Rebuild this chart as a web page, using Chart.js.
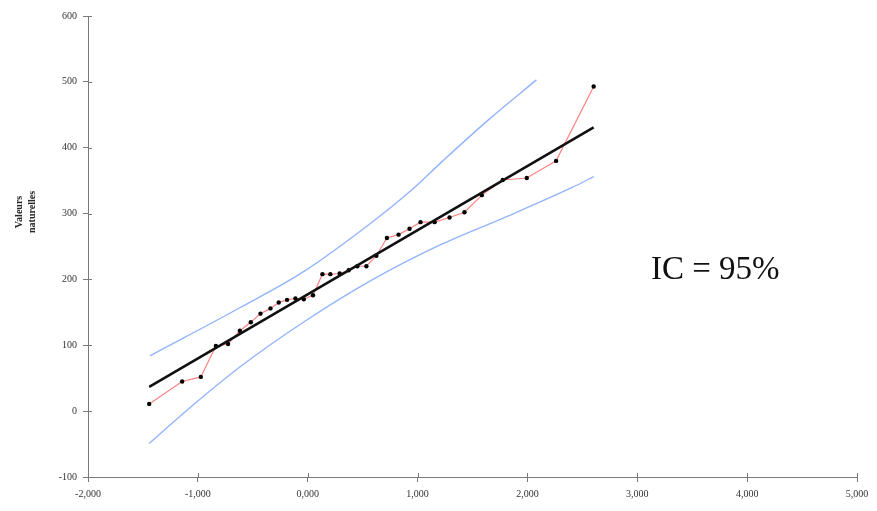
<!DOCTYPE html>
<html>
<head>
<meta charset="utf-8">
<script src="https://cdn.jsdelivr.net/npm/chart.js@4/dist/chart.umd.min.js"></script>
<style>
  html, body { margin: 0; padding: 0; background: #fff; }
  #wrap { position: relative; width: 877px; height: 511px; }
  #ytitle {
    position: absolute; left: 25px; top: 212px;
    transform: translate(-50%, -50%) rotate(-90deg);
    font: bold 10px "Liberation Serif", serif; line-height: 13px;
    text-align: center; color: #222; white-space: nowrap;
  }
  #ic {
    position: absolute; left: 651px; top: 250px;
    font: 33px "Liberation Serif", serif; color: #111; white-space: nowrap;
  }
</style>
</head>
<body>
<div id="wrap">
  <canvas id="c" width="877" height="511"></canvas>
  <div id="ytitle">Valeurs<br>naturelles</div>
  <div id="ic">IC = 95%</div>
</div>
<script>
// Observed data (normal score vs natural value)
const scores = [-1.443,-1.143,-0.973,-0.836,-0.725,-0.618,-0.518,-0.430,-0.339,-0.264,-0.188,-0.112,-0.036,0.048,0.134,0.206,0.291,0.373,0.452,0.534,0.625,0.721,0.827,0.927,1.027,1.155,1.291,1.427,1.585,1.775,1.994,2.261,2.603];
const values = [11,45,52,99,102,122,135,148,156,165,169,171,170,176,208,208,209,214,220,220,236,263,268,277,287,287,294,302,328,351,354,380,493];

// Fitted line
const fitX = [-1.443, 2.603];
const fitY = [37, 431];

// 95% confidence band
const upperX = [-1.436,-0.618,-0.045,0.594,0.927,1.23,1.65,2.082];
const upperY = [84,157,211,288,333,380,443,503];
const lowerX = [-1.443,-1.088,-0.618,-0.012,0.594,1.2,1.806,2.412,2.603];
const lowerY = [-49,3,67,138,200,252,295,340,356];

const pts = (xs, ys) => xs.map((x, i) => ({x: x, y: ys[i]}));

const AXIS = '#7a7a7a';
const innerTicks = {
  id: 'innerTicks',
  afterDraw(chart) {
    const ctx = chart.ctx, xs = chart.scales.x, ys = chart.scales.y;
    ctx.save();
    ctx.strokeStyle = AXIS; ctx.lineWidth = 1;
    ctx.beginPath();
    xs.ticks.forEach(t => {
      const p = Math.round(xs.getPixelForValue(t.value)) + 0.5;
      ctx.moveTo(p, ys.bottom); ctx.lineTo(p, ys.bottom - 4);
    });
    ys.ticks.forEach(t => {
      const p = Math.round(ys.getPixelForValue(t.value)) + 0.5;
      ctx.moveTo(xs.left, p); ctx.lineTo(xs.left + 4, p);
    });
    ctx.stroke();
    ctx.restore();
  }
};

const tickFont = {family: '"Liberation Serif", serif', size: 10};

new Chart(document.getElementById('c'), {
  type: 'scatter',
  data: {
    datasets: [
      {
        data: pts(fitX, fitY), showLine: true, borderColor: '#111', borderWidth: 2.6,
        pointRadius: 0, order: 0
      },
      {
        data: pts(scores, values), showLine: true, borderColor: '#ff8080', borderWidth: 1.2,
        pointRadius: 2.2, pointBackgroundColor: '#000', pointBorderColor: '#000', pointBorderWidth: 0,
        order: 1
      },
      {
        data: pts(upperX, upperY), showLine: true, borderColor: '#92b4ff', borderWidth: 1.4,
        pointRadius: 0, cubicInterpolationMode: 'monotone', order: 2
      },
      {
        data: pts(lowerX, lowerY), showLine: true, borderColor: '#92b4ff', borderWidth: 1.4,
        pointRadius: 0, cubicInterpolationMode: 'monotone', order: 2
      }
    ]
  },
  options: {
    responsive: false,
    animation: false,
    layout: {padding: {left: 0, top: 16, right: 20, bottom: 0}},
    plugins: {legend: {display: false}, tooltip: {enabled: false}},
    scales: {
      x: {
        type: 'linear', min: -2, max: 5,
        border: {color: AXIS, width: 1},
        grid: {drawOnChartArea: false, drawTicks: true, tickLength: 5, color: AXIS},
        ticks: {stepSize: 1, color: '#333', font: tickFont, padding: 6,
          callback: v => v.toFixed(3).replace('.', ',')},
        afterFit: s => { s.height = 34; }
      },
      y: {
        type: 'linear', min: -100, max: 600,
        border: {color: AXIS, width: 1},
        grid: {drawOnChartArea: false, drawTicks: true, tickLength: 5, color: AXIS},
        ticks: {stepSize: 100, color: '#333', font: tickFont, padding: 6},
        afterFit: s => { s.width = 88; }
      }
    }
  },
  plugins: [innerTicks]
});
</script>
</body>
</html>
